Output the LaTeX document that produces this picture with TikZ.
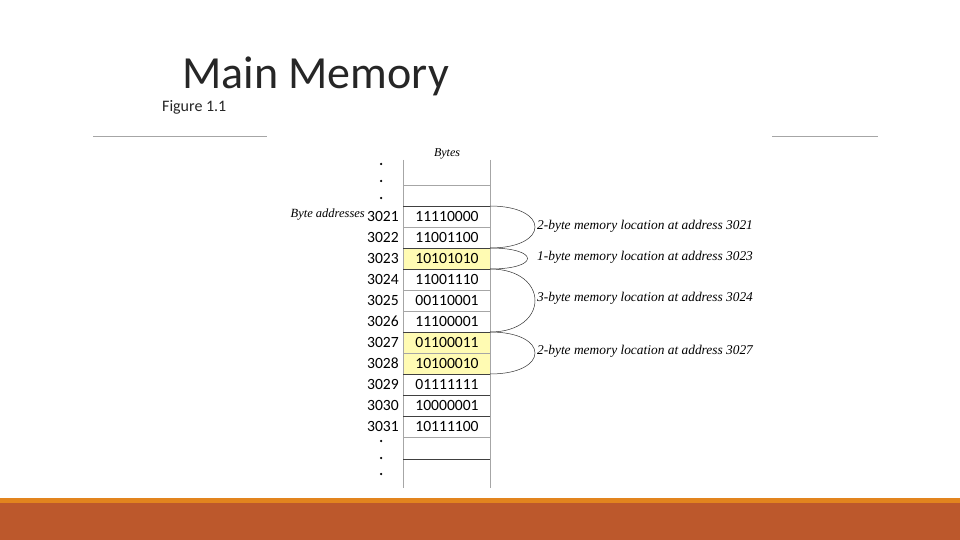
\documentclass[tikz,border=0pt]{standalone}
\usepackage{fontspec}
\setmainfont{Carlito}
\newfontfamily\tms{Liberation Serif}
\definecolor{barlight}{RGB}{226,132,30}
\definecolor{bardark}{RGB}{188,88,44}
\begin{document}
\begin{tikzpicture}[x=1pt,y=-1pt,
  cell/.style={draw=gray!70, line width=0.8pt},
  lbl/.style={anchor=west, font=\tms\itshape\fontsize{13.4}{15}\selectfont, inner sep=0pt},
  addr/.style={anchor=east, font=\fontsize{15.6}{17}\selectfont, inner sep=0pt},
  val/.style={font=\fontsize{15.6}{17}\selectfont, inner sep=0pt},
  dot/.style={circle, fill=black, inner sep=0pt, minimum size=2.5pt},
  arc/.style={draw=black!80, line width=0.5pt}]
\useasboundingbox (0,0) rectangle (960,540);
\fill[white] (0,0) rectangle (960,540);
% title
\node[anchor=base west, font=\fontsize{46}{50}\selectfont, text=black!85, inner sep=0pt] (title) at (182,89) {Main Memory};
\node[anchor=base west, font=\fontsize{16}{18}\selectfont, text=black!85, inner sep=0pt] (fig) at (162,112) {Figure 1.1};
\draw[gray!70, line width=0.6pt] (93,136) -- (267,136) (772,136) -- (878,136);
% bottom bars
\fill[barlight] (0,498) rectangle (960,503);
\fill[bardark] (0,503) rectangle (960,540);
% column
\node[font=\tms\itshape\fontsize{12}{13}\selectfont] (bytes) at (447,154) {Bytes};
\fill[yellow!30] (403,248) rectangle (490,269);
\fill[yellow!30] (403,332) rectangle (490,374);
\draw[cell] (403,160) -- (403,488) (490,160) -- (490,488);
\foreach \y in {185,206,227,248,269,290,311,332,353,374,395,416,437,459}
  \draw[cell] (403,\y) -- (490,\y);
\foreach \y in {206,248,269,332,374,395,416,459}
  \draw[black!75, line width=0.8pt] (403,\y) -- (490,\y);
\foreach \i/\a/\v in {0/3021/11110000,1/3022/11001100,2/3023/10101010,3/3024/11001110,4/3025/00110001,5/3026/11100001,6/3027/01100011,7/3028/10100010,8/3029/01111111,9/3030/10000001,10/3031/10111100}{
  \node[addr] (a\a) at (399,{216.5+21*\i}) {\a};
  \node[val] (v\a) at (447,{216.5+21*\i}) {\v};
}
\foreach \y [count=\k] in {164,181,198}
  \node[dot] (td\k) at (381,\y) {};
\foreach \y [count=\k] in {441,458,474}
  \node[dot] (bd\k) at (381,\y) {};
\node[anchor=east, font=\tms\itshape\fontsize{12.5}{14}\selectfont, inner sep=0pt] (ba) at (365,215) {Byte addresses};
% arcs
\coordinate (p1) at (490,206); \coordinate (p2) at (490,248);
\coordinate (p3) at (490,269); \coordinate (p4) at (490,332); \coordinate (p5) at (490,374);
\draw[arc] (p1) .. controls (550,206) and (550,248) .. (p2);
\draw[arc] (p2) .. controls (540,248) and (540,269) .. (p3);
\draw[arc] (p3) .. controls (550,269) and (550,332) .. (p4);
\draw[arc] (p4) .. controls (550,332) and (550,374) .. (p5);
\node[lbl] (l1) at (537,226) {2-byte memory location at address 3021};
\node[lbl] (l2) at (537,257) {1-byte memory location at address 3023};
\node[lbl] (l3) at (537,298) {3-byte memory location at address 3024};
\node[lbl] (l4) at (537,351) {2-byte memory location at address 3027};
\end{tikzpicture}
\end{document}
